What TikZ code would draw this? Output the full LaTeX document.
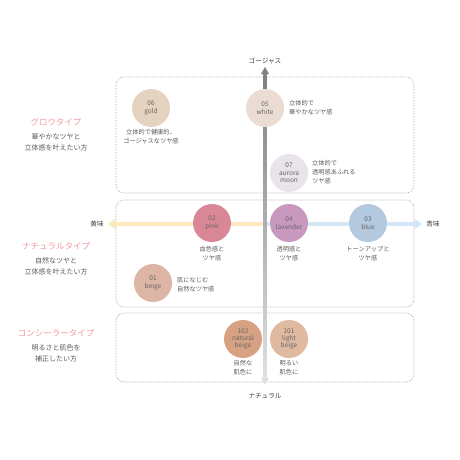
\documentclass[tikz,border=0pt]{standalone}
\usepackage{fontspec}
\setmainfont{Noto Sans CJK JP}
\usetikzlibrary{arrows.meta}
\definecolor{pinktxt}{HTML}{F09AA0}
\definecolor{cgold}{HTML}{E6D3BF}
\definecolor{cwhite}{HTML}{EADCD2}
\definecolor{caurora}{HTML}{E9E3EB}
\definecolor{cpink}{HTML}{D98796}
\definecolor{clav}{HTML}{C898BE}
\definecolor{cblue}{HTML}{B5C9DE}
\definecolor{cbeige}{HTML}{DDB5A5}
\definecolor{cnat}{HTML}{D7A283}
\definecolor{clight}{HTML}{DFB9A0}
\definecolor{ayellow}{HTML}{FDE8BF}
\definecolor{ablue}{HTML}{D3E7F7}
\definecolor{txt}{HTML}{5A5A5A}
\begin{document}
\begin{tikzpicture}[x=1pt,y=-1pt,
  typebox/.style={draw=black!40, densely dotted, rounded corners=8pt, line width=0.6pt},
  dot/.style={circle, minimum size=38pt, inner sep=0pt, font=\fontsize{6.5}{7.4}\selectfont, text=black!60, align=center},
  desc/.style={font=\fontsize{6.2}{9}\selectfont, text=txt, align=center, inner sep=0pt},
  descl/.style={desc, align=left},
  typetitle/.style={font=\fontsize{8.5}{10}\selectfont, text=pinktxt, inner sep=0pt},
  typesub/.style={font=\fontsize{7}{11}\selectfont, text=txt, align=center, inner sep=0pt},
  axislabel/.style={font=\fontsize{6.6}{8}\selectfont, text=black!75, inner sep=0pt}]
\useasboundingbox (0,0) rectangle (460,460);
% boxes
\draw[typebox] (116,77) rectangle (414,193);
\draw[typebox] (116,200) rectangle (414,307);
\draw[typebox] (116,313) rectangle (414,382);
% axis anchors
\coordinate (yl) at (108,224);
\coordinate (yc) at (265,224);
\coordinate (yr) at (422,224);
% horizontal arrow
\fill[ayellow] (114,222) rectangle (265,226);
\fill[ayellow] (yl) -- (115,219) -- (115,229) -- cycle;
\fill[ablue] (265,222) rectangle (415,226);
\fill[ablue] (yr) -- (415,219) -- (415,229) -- cycle;
% vertical arrow
\coordinate (vt) at (265,67);
\coordinate (vb) at (265,385);
\shade[top color=black!50, bottom color=black!12] (263.3,73) rectangle (266.7,379);
\fill[black!50] (vt) -- (261,74) -- (269,74) -- cycle;
\fill[black!12] (vb) -- (261,378) -- (269,378) -- cycle;
% axis labels
\node[axislabel] (lt) at (265,61) {ゴージャス};
\node[axislabel] (lb) at (265,396) {ナチュラル};
\node[axislabel] (ll) at (97,224) {黄味};
\node[axislabel] (lr) at (433,224) {青味};
% circles
\node[dot, fill=cgold] (c06) at (151,108) {06\\gold};
\node[dot, fill=cwhite] (c05) at (265,108) {05\\white};
\node[dot, fill=caurora] (c07) at (289,173) {07\\aurora\\moon};
\node[dot, fill=cpink] (c02) at (212,223) {02\\pink};
\node[dot, fill=clav] (c04) at (289,223) {04\\lavender};
\node[dot, fill=cblue] (c03) at (368,223) {03\\blue};
\node[dot, fill=cbeige] (c01) at (153,283) {01\\beige};
\node[dot, fill=cnat] (c102) at (243,339) {102\\natural\\beige};
\node[dot, fill=clight] (c101) at (289,339) {101\\light\\beige};
% descriptions
\node[desc] (d06) at (151,136.5) {立体的で健康的、\\ゴージャスなツヤ感};
\node[descl, anchor=west] (d05) at (289,107.5) {立体的で\\華やかなツヤ感};
\node[descl, anchor=west] (d07) at (312,172) {立体的で\\透明感あふれる\\ツヤ感};
\node[desc] (d02) at (212,253.5) {血色感と\\ツヤ感};
\node[desc] (d04) at (289,253.5) {透明感と\\ツヤ感};
\node[desc] (d03) at (368,253.5) {トーンアップと\\ツヤ感};
\node[descl, anchor=west] (d01) at (177,284.5) {肌になじむ\\自然なツヤ感};
\node[desc] (d102) at (243,367.5) {自然な\\肌色に};
\node[desc] (d101) at (289,367.5) {明るい\\肌色に};
% type labels
\node[typetitle] (t1) at (56,122) {グロウタイプ};
\node[typesub] (s1) at (56,142.5) {華やかなツヤと\\立体感を叶えたい方};
\node[typetitle] (t2) at (56,246) {ナチュラルタイプ};
\node[typesub] (s2) at (56,266) {自然なツヤと\\立体感を叶えたい方};
\node[typetitle] (t3) at (56,333) {コンシーラータイプ};
\node[typesub] (s3) at (56,353.5) {明るさと肌色を\\補正したい方};
\end{tikzpicture}
\end{document}
